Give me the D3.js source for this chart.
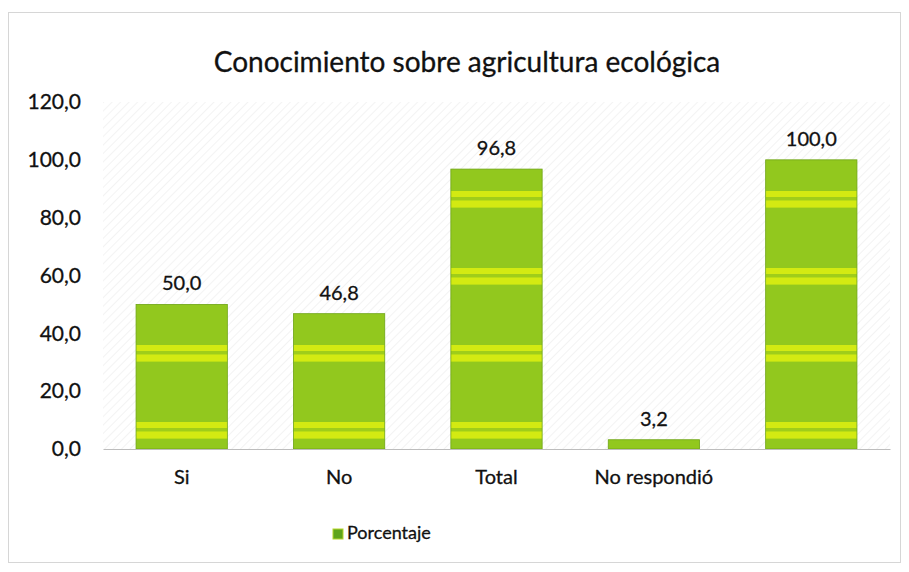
<!DOCTYPE html>
<html>
<head>
<meta charset="utf-8">
<script src="https://cdn.jsdelivr.net/npm/d3@7"></script>
<style>
  body { margin: 0; background: #fff; }
  text { font-family: Lato, "Open Sans", sans-serif; fill: #111; stroke: #111; stroke-width: 0.3px; }
</style>
</head>
<body>
<div id="chart"></div>
<script>
// data
const categories = ["Si", "No", "Total", "No respondió", " "];
const values = [50.0, 46.8, 96.8, 3.2, 100.0];
const yTicks = [0, 20, 40, 60, 80, 100, 120];
const seriesName = "Porcentaje";
const title = "Conocimiento sobre agricultura ecológica";

const W = 909, H = 572;
const margin = {top: 102, right: 19, bottom: 123, left: 103};

const fmt = d => d3.format(".1f")(d).replace(".", ",");

const svg = d3.select("#chart").append("svg")
    .attr("width", W)
    .attr("height", H);

const defs = svg.append("defs");

// faint diagonal hatch of the scanned plot area
const hatch = defs.append("pattern")
    .attr("id", "hatch")
    .attr("patternUnits", "userSpaceOnUse")
    .attr("width", 6).attr("height", 6)
    .attr("patternTransform", "rotate(45)");
hatch.append("line")
    .attr("x1", 0).attr("y1", 0).attr("x2", 0).attr("y2", 6)
    .attr("stroke", "#e2e2e2").attr("stroke-width", 1);

// green fill with the yellow bands that run across all bars
const stripes = defs.append("pattern")
    .attr("id", "stripes")
    .attr("patternUnits", "userSpaceOnUse")
    .attr("width", 10).attr("height", 77)
    .attr("y", 12);
stripes.append("rect").attr("width", 10).attr("height", 77).attr("fill", "#92c81e");
stripes.append("rect").attr("y", -1).attr("width", 10).attr("height", 8).attr("fill", "#b9dd16");
stripes.append("rect").attr("y", 0).attr("width", 10).attr("height", 6).attr("fill", "#d3ea12");
stripes.append("rect").attr("y", 9).attr("width", 10).attr("height", 8).attr("fill", "#b9dd16");
stripes.append("rect").attr("y", 10).attr("width", 10).attr("height", 6).attr("fill", "#d3ea12");
stripes.append("rect").attr("y", 6).attr("width", 10).attr("height", 3).attr("fill", "#9fcd1a");

// outer chart border
svg.append("rect")
    .attr("x", 8.5).attr("y", 12.5)
    .attr("width", W - 17).attr("height", H - 22)
    .attr("fill", "none")
    .attr("stroke", "#d6d6d6");

const innerW = W - margin.left - margin.right;
const innerH = H - margin.top - margin.bottom;

const g = svg.append("g")
    .attr("transform", "translate(" + margin.left + "," + margin.top + ")");

let x = d3.scaleBand()
    .domain(categories)
    .range([0, innerW])
    .paddingInner(0.42)
    .paddingOuter(0.21);

let y = d3.scaleLinear()
    .domain([0, 120])
    .range([innerH, 0]);

g.append("rect")
    .attr("width", innerW)
    .attr("height", innerH)
    .attr("fill", "url(#hatch)")
    .attr("opacity", 0.8);

// bars
g.selectAll(".bar")
    .data(values)
    .enter().append("rect")
    .attr("class", "bar")
    .attr("x", (d, i) => x(categories[i]))
    .attr("y", d => y(d))
    .attr("width", x.bandwidth())
    .attr("height", d => innerH - y(d))
    .attr("fill", "url(#stripes)")
    .attr("stroke", "#6ea514")
    .attr("stroke-width", 0.8);

// value labels
g.selectAll(".val")
    .data(values)
    .enter().append("text")
    .attr("class", "val")
    .attr("x", (d, i) => x(categories[i]) + x.bandwidth() / 2)
    .attr("y", d => y(d) - 14)
    .attr("text-anchor", "middle")
    .style("font-size", "20px")
    .text(d => fmt(d));

// y axis
const yAxis = g.append("g")
    .call(d3.axisLeft(y).tickValues(yTicks).tickSize(0).tickPadding(22)
        .tickFormat(fmt));
yAxis.select(".domain").remove();
yAxis.selectAll("text")
    .style("font-size", "21px")
    .style("font-family", "Lato, 'Open Sans', sans-serif");

// x axis
const xAxis = g.append("g")
    .attr("transform", "translate(0," + innerH + ")")
    .call(d3.axisBottom(x).tickSize(0).tickPadding(21));
xAxis.select(".domain").attr("stroke", "#bdbdbd");
xAxis.selectAll("text")
    .style("font-size", "20px")
    .style("font-family", "Lato, 'Open Sans', sans-serif");

// title
svg.append("text")
    .attr("x", 467)
    .attr("y", 72)
    .attr("text-anchor", "middle")
    .style("font-size", "28px")
    .text(title);

// legend
const legend = svg.append("g")
    .attr("transform", "translate(333,529)");
legend.append("rect")
    .attr("width", 10).attr("height", 10)
    .attr("fill", "#5fa41c")
    .attr("stroke", "#b5d62a");
legend.append("text")
    .attr("x", 14)
    .attr("y", 10)
    .style("font-size", "18px")
    .text(seriesName);
</script>
</body>
</html>
